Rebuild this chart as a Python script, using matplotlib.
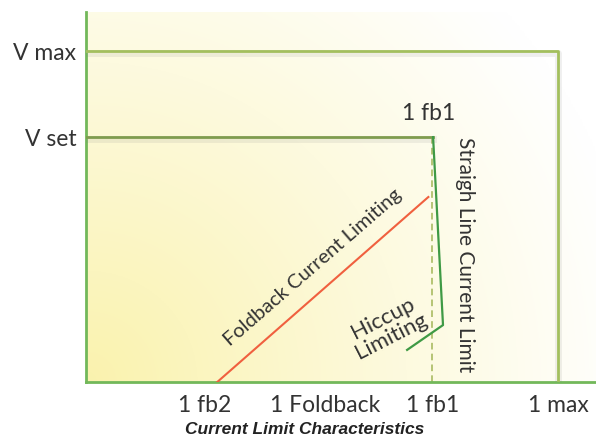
import numpy as np
import matplotlib
matplotlib.use("Agg")
import matplotlib.pyplot as plt
import matplotlib.patheffects as pe

# current axis (I max = 100), voltage axis (V max = 100)
x_ticks = [25.2, 50.6, 73.3, 100.0]
x_labels = ["1 fb2", "1 Foldback", "1 fb1", "1 max"]
y_ticks = [100.0, 74.0]
y_labels = ["V max", "V set"]

vmax_x = [0, 100, 100]
vmax_y = [100, 100, 0]
vset_x = [0, 73.5]
vset_y = [74, 74]
straight_x = [73.5, 75.6, 68.0]
straight_y = [74, 17.2, 9.7]
fold_x = [27.8, 72.5]
fold_y = [0, 55.9]
dash_x = [73.3, 73.3]
dash_y = [0, 74]

plt.rcParams['font.family'] = ['Lato', 'DejaVu Sans']

fig = plt.figure(figsize=(5.96, 4.45), dpi=100)
ax = fig.add_axes([86/596, 63/445, 510/596, 370/445])
ax.set_xlim(0, 108)
ax.set_ylim(0, 111.8)

# radial yellow glow from the lower-left corner
gx, gy = np.meshgrid(np.linspace(0, 510, 300), np.linspace(0, 370, 220))
d = np.sqrt(gx**2 + gy**2) / 560.0
w = np.clip(1 - d, 0, 1) ** 1.1
yellow = np.array([0.98, 0.95, 0.68])
img = np.ones((220, 300, 3)) * (1 - w[..., None]) + yellow * w[..., None]
ax.imshow(img, extent=[0, 108, 0, 111.8], origin='lower', aspect='auto', zorder=0)

shadow = [pe.SimpleLineShadow(offset=(0, -1.5), shadow_color='gray', alpha=0.12, linewidth=5), pe.Normal()]

ax.plot(vmax_x, vmax_y, color='#a3bf5e', lw=2, path_effects=shadow, zorder=3)
ax.plot(vset_x, vset_y, color='#7f9c4e', lw=2, path_effects=shadow, zorder=3)
ax.plot(dash_x, dash_y, color='#a9bb62', lw=1.2, ls=(0, (4, 2.5)), zorder=2)
ax.plot(fold_x, fold_y, color='#f0603f', lw=1.5, zorder=3)
ax.plot(straight_x, straight_y, color='#3f9a45', lw=1.6, zorder=3)

for s in ['top', 'right']:
    ax.spines[s].set_visible(False)
for s in ['left', 'bottom']:
    ax.spines[s].set_color('#72b85a')
    ax.spines[s].set_linewidth(2)

ax.set_xticks(x_ticks)
ax.set_xticklabels(x_labels, fontsize=16.5, color='#333333')
ax.set_yticks(y_ticks)
ax.set_yticklabels(y_labels, fontsize=16.5, color='#333333')
ax.tick_params(axis='x', length=0, pad=9)
ax.tick_params(axis='y', length=0, pad=7)

ax.text(72.5, 81.0, "1 fb1", fontsize=16.5, color='#333333', ha='center', va='center')
ax.text(80.3, 38.4, "Straigh Line Current Limit", fontsize=15, color='#333333',
        rotation=270, ha='center', va='center')
ax.text(48.0, 34.5, "Foldback Current Limiting", fontsize=14.5, color='#333333',
        rotation=41, ha='center', va='center', rotation_mode='anchor')
ax.text(63.8, 16.5, "Hiccup\nLimiting", fontsize=16, color='#333333', linespacing=0.95,
        rotation=27, ha='center', va='center', rotation_mode='anchor', multialignment='center')

fig.text(305/596, 1 - 430/445, "Current Limit Characteristics", fontsize=12.5,
         fontweight='bold', fontstyle='italic', family=['Liberation Sans', 'DejaVu Sans'],
         ha='center', va='center', color='#222222')

fig.savefig("out.png", dpi=100)
